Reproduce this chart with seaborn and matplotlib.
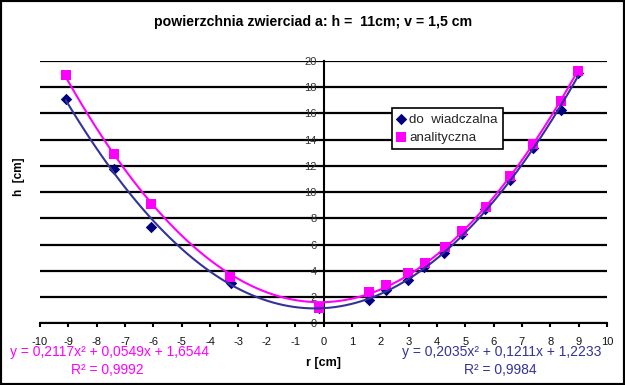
import numpy as np
import pandas as pd
import matplotlib
matplotlib.use('Agg')
import matplotlib.pyplot as plt
from matplotlib.patches import Rectangle
import seaborn as sns

# ── data ─────────────────────────────────────────────────────────
r_dosw = [-9.09, -7.38, -6.08, -3.28, -0.17, 1.60, 2.19, 2.97, 3.56, 4.26, 4.90, 5.71, 6.58, 7.38, 8.39, 8.99]
h_dosw = [17.10, 11.80, 7.36, 3.05, 1.15, 1.80, 2.54, 3.30, 4.27, 5.34, 6.80, 8.69, 10.92, 13.34, 16.26, 19.05]

r_anal = [-9.09, -7.39, -6.08, -3.31, -0.17, 1.60, 2.19, 2.98, 3.58, 4.29, 4.90, 5.72, 6.58, 7.38, 8.39, 8.99]
h_anal = [18.93, 12.92, 9.12, 3.52, 1.20, 2.40, 2.92, 3.86, 4.62, 5.84, 7.03, 8.89, 11.23, 13.67, 16.94, 19.21]

x_ticks = list(range(-10, 11))
y_ticks = list(range(0, 21, 2))

title = 'powierzchnia zwierciad a: h =  11cm; v = 1,5 cm'
eq_anal = ['y = 0,2117x² + 0,0549x + 1,6544', 'R² = 0,9992']
eq_dosw = ['y = 0,2035x² + 0,1211x + 1,2233', 'R² = 0,9984']

MAG = '#FF00FF'
NAVY = '#000080'
TREND_BLUE = '#333399'

sns.set_theme(style='white')
plt.rcParams['font.family'] = ['Liberation Sans', 'DejaVu Sans']

fig = plt.figure(figsize=(6.25, 3.85), dpi=100)
fig.patch.set_facecolor('white')
W, H = 625, 385
ax = fig.add_axes([40 / W, 1 - 323.3 / H, (607 - 40) / W, (323.3 - 61) / H])

# ── series ───────────────────────────────────────────────────────
sns.scatterplot(x=r_dosw, y=h_dosw, ax=ax, marker='D', s=34, color=NAVY,
                edgecolor=NAVY, linewidth=0, label='do  wiadczalna', zorder=3)
sns.scatterplot(x=r_anal, y=h_anal, ax=ax, marker='s', s=55, color=MAG,
                edgecolor=MAG, linewidth=0, label='analityczna', zorder=4)

# polynomial trend lines (order 2), like the Excel trendlines
sns.regplot(x=r_anal, y=h_anal, ax=ax, order=2, ci=None, scatter=False,
            line_kws=dict(color=MAG, lw=1.5, zorder=5))
sns.regplot(x=r_dosw, y=h_dosw, ax=ax, order=2, ci=None, scatter=False,
            line_kws=dict(color=TREND_BLUE, lw=1.5, zorder=6))

# ── axes styling ─────────────────────────────────────────────────
ax.set_xlim(-10, 10)
ax.set_ylim(0, 20)
ax.set_xticks(x_ticks)
ax.set_yticks(y_ticks)
ax.set_xticklabels([str(v) for v in x_ticks])
ax.set_yticklabels([str(v) for v in y_ticks])
ax.set_xlabel('')
ax.set_ylabel('')

for side in ['top', 'right']:
    ax.spines[side].set_visible(False)
ax.spines['left'].set_position(('data', 0))
ax.spines['left'].set_color('black')
ax.spines['left'].set_linewidth(1.5)
ax.spines['bottom'].set_color('black')
ax.spines['bottom'].set_linewidth(1.5)

ax.yaxis.grid(True, color='black', lw=1.6)
ax.xaxis.grid(False)
ax.set_axisbelow(True)

ax.tick_params(axis='x', direction='out', length=3, width=1.5, color='black',
               pad=7, labelsize=8, labelcolor='#111111', bottom=True)
ax.tick_params(axis='y', length=0, pad=5, labelsize=8, labelcolor='#333333', left=True)

leg = ax.legend(loc='upper left', bbox_to_anchor=(392 / W, 1 - 108 / H),
                bbox_transform=fig.transFigure, frameon=True, fancybox=False,
                framealpha=1, edgecolor='black', fontsize=9.6, handlelength=0.6,
                handletextpad=0.3, borderpad=0.4, labelspacing=0.45, borderaxespad=0)
leg.get_frame().set_linewidth(1.2)

# ── texts ────────────────────────────────────────────────────────
fig.text(313 / W, 1 - 22 / H, title, ha='center', va='center',
         fontsize=10.2, fontweight='bold', color='black')
fig.text(19 / W, 1 - 177 / H, 'h  [cm]', ha='center', va='center', rotation=90,
         fontsize=8.5, fontweight='bold', color='black')
fig.text(324 / W, 1 - 363 / H, 'r [cm]', ha='center', va='center',
         fontsize=9, fontweight='bold', color='black')

fig.text(109 / W, 1 - 352 / H, eq_anal[0], ha='center', va='center', fontsize=10, color=MAG)
fig.text(107 / W, 1 - 370 / H, eq_anal[1], ha='center', va='center', fontsize=10, color=MAG)
fig.text(502 / W, 1 - 352 / H, eq_dosw[0], ha='center', va='center', fontsize=10, color=TREND_BLUE)
fig.text(500 / W, 1 - 370 / H, eq_dosw[1], ha='center', va='center', fontsize=10, color=TREND_BLUE)

# outer frame of the chart
fig.add_artist(Rectangle((0, 0), 1, 1, transform=fig.transFigure, fill=False,
                         lw=3, ec='black'))

plt.savefig('out.png', dpi=100, facecolor='white')
plt.close()
